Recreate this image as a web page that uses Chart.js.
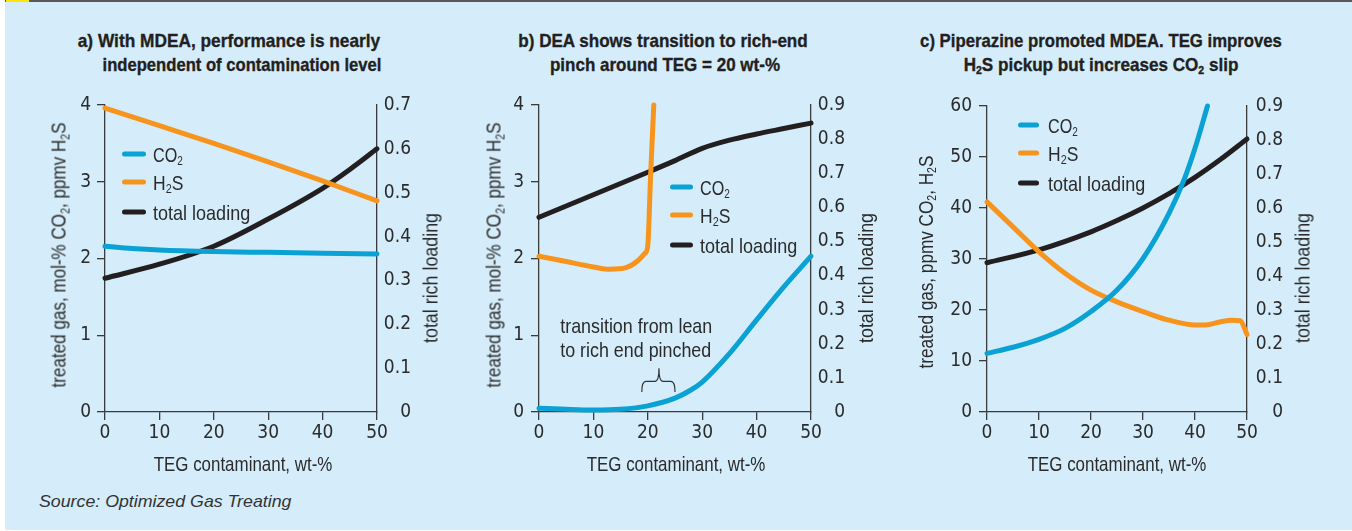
<!DOCTYPE html>
<html>
<head>
<meta charset="utf-8">
<script src="https://cdn.jsdelivr.net/npm/chart.js@4.4.1/dist/chart.umd.min.js"></script>
<style>
  html, body { margin: 0; padding: 0; background: #fff; }
  body { width: 1352px; height: 531px; position: relative; overflow: hidden;
         font-family: "Liberation Sans", Arial, sans-serif; color: #2b2b2b; }
  #bg { position: absolute; left: 5px; top: 2px; width: 1347px; height: 528px; background: #d5edfa; }
  #bar { position: absolute; left: 5px; top: 0; width: 1347px; height: 2px; background: #58595b; }
  #bar i { position: absolute; left: 1px; top: 0; width: 23px; height: 2px; background: #ffe600; }
  canvas { position: absolute; }
  .c, .v, .l { position: absolute; white-space: nowrap; line-height: 1; font-size: 21px; }
  .l { transform-origin: 0 50%; }
  .t { font-weight: bold; font-size: 19px; color: #231f20; -webkit-text-stroke: 0.35px #231f20; }
  .sw { position: absolute; height: 5px; border-radius: 3px; transform: translateY(-50%); }
  sub { font-size: 0.62em; vertical-align: -0.3em; line-height: 0; }
  #src { font-style: italic; font-size: 17px; color: #333; }
</style>
</head>
<body>
<div id="bg"></div>
<div id="bar"><i></i></div>

<!-- titles -->
<div class="c t" style="left:229px;top:40px" data-w="302">a) With MDEA, performance is nearly</div>
<div class="c t" style="left:241.5px;top:64px" data-w="279">independent of contamination level</div>
<div class="c t" style="left:662.5px;top:40px" data-w="289">b) DEA shows transition to rich-end</div>
<div class="c t" style="left:665px;top:64px" data-w="230">pinch around TEG = 20 wt-%</div>
<div class="c t" style="left:1101px;top:40px" data-w="362">c) Piperazine promoted MDEA. TEG improves</div>
<div class="c t" style="left:1100.5px;top:64px" data-w="275">H<sub>2</sub>S pickup but increases CO<sub>2</sub> slip</div>

<canvas id="chartA" width="420" height="390" style="left:40px;top:80px"></canvas>
<canvas id="chartB" width="420" height="390" style="left:480px;top:80px"></canvas>
<canvas id="chartC" width="400" height="390" style="left:940px;top:80px"></canvas>

<!-- axis titles -->
<div class="v" style="left:58px;top:255px" data-w="265">treated gas, mol-% CO<sub>2</sub>, ppmv H<sub>2</sub>S</div>
<div class="v" style="left:430px;top:278px" data-w="130">total rich loading</div>
<div class="c" style="left:243px;top:463px" data-w="179">TEG contaminant, wt-%</div>
<div class="v" style="left:492.5px;top:255px" data-w="265">treated gas, mol-% CO<sub>2</sub>, ppmv H<sub>2</sub>S</div>
<div class="v" style="left:865px;top:278px" data-w="130">total rich loading</div>
<div class="c" style="left:676px;top:463px" data-w="179">TEG contaminant, wt-%</div>
<div class="v" style="left:925px;top:262px" data-w="213">treated gas, ppmv CO<sub>2</sub>, H<sub>2</sub>S</div>
<div class="v" style="left:1302px;top:278px" data-w="130">total rich loading</div>
<div class="c" style="left:1117px;top:463px" data-w="179">TEG contaminant, wt-%</div>

<div id="legends"></div>
<div id="src" class="l" style="left:39px;top:501px" data-w="253">Source: Optimized Gas Treating</div>

<script>
// colours
const BLUE = '#0aa2d4', ORANGE = '#f7941d', BLACK = '#231f20', AXIS = '#3a3a3a', TXT = '#2b2b2b';
const TICKFONT = '"DejaVu Sans Condensed", "Liberation Sans Narrow", sans-serif';

// x ticks (TEG contaminant, wt-%)
const xTicks = [0, 10, 20, 30, 40, 50];

// a) MDEA
const aLeftTicks = [0, 1, 2, 3, 4];
const aRightTicks = [0, 0.1, 0.2, 0.3, 0.4, 0.5, 0.6, 0.7];
const aCo2X = [0, 5, 10, 20, 30, 40, 50];
const aCo2Y = [2.16, 2.13, 2.11, 2.09, 2.08, 2.07, 2.06];
const aH2sX = [0, 10, 20, 30, 40, 50];
const aH2sY = [3.96, 3.73, 3.5, 3.26, 3.01, 2.75];
const aLoadX = [0, 10, 20, 30, 40, 45, 50];
const aLoadY = [0.305, 0.337, 0.378, 0.44, 0.51, 0.553, 0.60];

// b) DEA
const bLeftTicks = [0, 1, 2, 3, 4];
const bRightTicks = [0, 0.1, 0.2, 0.3, 0.4, 0.5, 0.6, 0.7, 0.8, 0.9];
const bCo2X = [0, 5, 10, 15, 20, 25, 28, 30, 35, 40, 45, 50];
const bCo2Y = [0.05, 0.035, 0.026, 0.035, 0.08, 0.18, 0.29, 0.39, 0.76, 1.2, 1.63, 2.03];
const bH2sX = [0, 5, 10, 13, 16, 18, 19.5, 20.0, 20.5, 21.1];
const bH2sY = [2.03, 1.96, 1.89, 1.86, 1.88, 1.96, 2.07, 2.17, 3.05, 4.0];
const bLoadX = [0, 10, 20, 25, 30, 35, 40, 45, 50];
const bLoadY = [0.571, 0.637, 0.703, 0.737, 0.773, 0.797, 0.815, 0.831, 0.847];
const bNote = ['transition from lean', 'to rich end pinched'];

// c) Piperazine promoted MDEA
const cLeftTicks = [0, 10, 20, 30, 40, 50, 60];
const cRightTicks = [0, 0.1, 0.2, 0.3, 0.4, 0.5, 0.6, 0.7, 0.8, 0.9];
const cCo2X = [0, 5, 10, 15, 20, 25, 30, 35, 38, 40, 42.4];
const cCo2Y = [11.5, 12.7, 14.25, 16.4, 19.7, 23.9, 30.1, 38.96, 45.8, 51.7, 60];
const cH2sX = [0, 5, 10, 15, 20, 25, 30, 35, 40, 42, 45, 47, 48.7, 50];
const cH2sY = [41.2, 36.3, 31.4, 27.2, 23.9, 21.6, 19.7, 18.0, 17.06, 17.06, 17.7, 18.0, 17.9, 15.2];
const cLoadX = [0, 10, 20, 25, 30, 35, 40, 45, 50];
const cLoadY = [0.439, 0.477, 0.53, 0.563, 0.6, 0.642, 0.69, 0.744, 0.803];

// squeeze html text to the reference widths (no condensed face installed)
document.querySelectorAll('[data-w]').forEach(el => {
  const k = (+el.dataset.w / el.offsetWidth).toFixed(3);
  if (el.classList.contains('v')) el.style.transform = 'translate(-50%,-50%) rotate(-90deg) scaleX(' + k + ')';
  else if (el.classList.contains('l')) el.style.transform = 'translateY(-50%) scaleX(' + k + ')';
  else el.style.transform = 'translate(-50%,-50%) scaleX(' + k + ')';
});

const pts = (xs, ys) => xs.map((x, i) => ({ x: x, y: ys[i] }));

function series(label, xs, ys, color, axis) {
  return {
    label: label, data: pts(xs, ys), yAxisID: axis,
    borderColor: color, borderWidth: 5, borderCapStyle: 'round', borderJoinStyle: 'round',
    pointRadius: 0, cubicInterpolationMode: 'monotone', clip: false
  };
}

// fixed box sizes so the plot areas land where the reference has them
function makePanel(id, box, leftTicks, rightTicks, datasets, plugins) {
  const fnt = { family: TICKFONT, size: 19 };
  return new Chart(document.getElementById(id), {
    type: 'line',
    data: { datasets: datasets },
    options: {
      responsive: false, animation: false,
      layout: { padding: { top: box.top, left: 0, right: box.pr, bottom: 0 } },
      plugins: { legend: { display: false }, tooltip: { enabled: false } },
      scales: {
        x: {
          type: 'linear', min: 0, max: 50,
          afterBuildTicks: s => { s.ticks = xTicks.map(v => ({ value: v })); },
          afterFit: s => { s.height = box.bottom; },
          grid: { drawOnChartArea: false, drawTicks: true, tickLength: 8, color: AXIS, lineWidth: 1.3 },
          border: { color: AXIS, width: 1.3 },
          ticks: { font: fnt, color: TXT, padding: 2, maxRotation: 0 }
        },
        y: {
          position: 'left', min: leftTicks[0], max: leftTicks[leftTicks.length - 1],
          afterBuildTicks: s => { s.ticks = leftTicks.map(v => ({ value: v })); },
          afterFit: s => { s.width = box.left; },
          grid: { drawOnChartArea: false, drawTicks: true, tickLength: 8, color: AXIS, lineWidth: 1.3 },
          border: { color: AXIS, width: 1.3 },
          ticks: { font: fnt, color: TXT, padding: box.lp }
        },
        y2: {
          position: 'right', min: 0, max: rightTicks[rightTicks.length - 1],
          afterBuildTicks: s => { s.ticks = rightTicks.map(v => ({ value: v })); },
          afterFit: s => { s.width = box.right; },
          grid: { drawOnChartArea: false, drawTicks: false },
          border: { color: AXIS, width: 1.3 },
          ticks: { font: fnt, color: TXT, padding: 0, crossAlign: 'far',
                   callback: v => v === 0 ? '0' : v.toFixed(1) }
        }
      }
    },
    plugins: plugins || []
  });
}

// note + brace in panel b, placed in data units
const braceNote = {
  id: 'braceNote',
  afterDatasetsDraw(chart) {
    const c = chart.ctx, sx = chart.scales.x, sy = chart.scales.y;
    c.save();
    c.fillStyle = TXT;
    c.font = '21px "Liberation Sans", Arial, sans-serif';
    c.textAlign = 'left';
    c.textBaseline = 'middle';
    const k = 152 / c.measureText(bNote[0]).width;
    const x0 = sx.getPixelForValue(3.9);
    [1.12, 0.81].forEach((yv, i) => {
      c.save();
      c.translate(x0, sy.getPixelForValue(yv));
      c.scale(k, 1);
      c.fillText(bNote[i], 0, 1);
      c.restore();
    });
    const xl = sx.getPixelForValue(18.9), xt = sx.getPixelForValue(22.05), xr = sx.getPixelForValue(25.0);
    const ye = sy.getPixelForValue(0.26), ym = sy.getPixelForValue(0.4), yt = sy.getPixelForValue(0.57);
    c.strokeStyle = '#333';
    c.lineWidth = 1.2;
    c.beginPath();
    c.moveTo(xl, ye);
    c.quadraticCurveTo(xl, ym, xl + 4, ym);
    c.lineTo(xt - 4, ym);
    c.quadraticCurveTo(xt, ym, xt, yt);
    c.quadraticCurveTo(xt, ym, xt + 4, ym);
    c.lineTo(xr - 4, ym);
    c.quadraticCurveTo(xr, ym, xr, ye);
    c.stroke();
    c.restore();
  }
};

makePanel('chartA', { top: 25, left: 65, right: 34, pr: 49, bottom: 58, lp: 6 }, aLeftTicks, aRightTicks, [
  series('CO2', aCo2X, aCo2Y, BLUE, 'y'),
  series('H2S', aH2sX, aH2sY, ORANGE, 'y'),
  series('total loading', aLoadX, aLoadY, BLACK, 'y2')
]);

makePanel('chartB', { top: 25, left: 59, right: 34, pr: 55, bottom: 58, lp: 7 }, bLeftTicks, bRightTicks, [
  series('CO2', bCo2X, bCo2Y, BLUE, 'y'),
  series('H2S', bH2sX, bH2sY, ORANGE, 'y'),
  series('total loading', bLoadX, bLoadY, BLACK, 'y2')
], [braceNote]);

makePanel('chartC', { top: 26, left: 47, right: 36, pr: 57, bottom: 58, lp: 7 }, cLeftTicks, cRightTicks, [
  series('CO2', cCo2X, cCo2Y, BLUE, 'y'),
  series('H2S', cH2sX, cH2sY, ORANGE, 'y'),
  series('total loading', cLoadX, cLoadY, BLACK, 'y2')
]);

// legends (HTML so the subscripts read right)
const legendNames = ['CO<sub>2</sub>', 'H<sub>2</sub>S', 'total loading'];
const legendWidths = [30, 30, 97];
const legendColors = [BLUE, ORANGE, BLACK];
const legendSpots = [
  { sx: 122, sw: 24, tx: 153, ys: [154, 182, 212] },
  { sx: 670, sw: 23, tx: 700, ys: [187, 215, 245] },
  { sx: 1018, sw: 21, tx: 1048, ys: [125, 153, 183] }
];
const host = document.getElementById('legends');
legendSpots.forEach(p => {
  legendNames.forEach((n, i) => {
    const s = document.createElement('div');
    s.className = 'sw';
    s.style.cssText = 'left:' + p.sx + 'px;top:' + p.ys[i] + 'px;width:' + p.sw + 'px;background:' + legendColors[i];
    host.appendChild(s);
    const t = document.createElement('div');
    t.className = 'l';
    t.style.cssText = 'left:' + p.tx + 'px;top:' + p.ys[i] + 'px';
    t.innerHTML = n;
    host.appendChild(t);
    const k = (legendWidths[i] / t.offsetWidth).toFixed(3);
    t.style.transform = 'translateY(-50%) scaleX(' + k + ')';
  });
});
</script>
</body>
</html>
